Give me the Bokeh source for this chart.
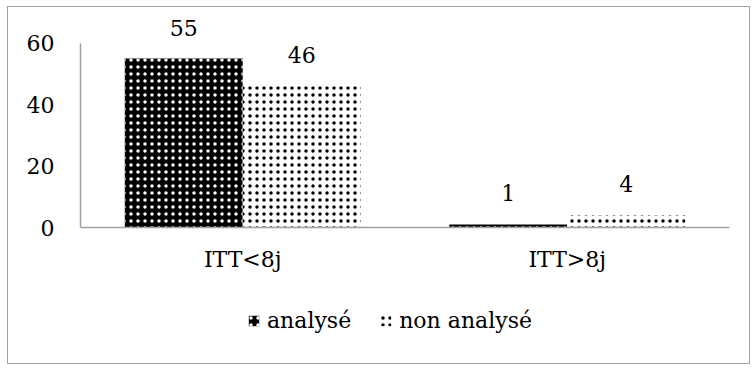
from bokeh.plotting import figure
from bokeh.models import ColumnDataSource, FactorRange, Range1d, FixedTicker, Legend, LegendItem, Span
from bokeh.transform import dodge
from bokeh.core.properties import value
from bokeh.embed import file_html
from bokeh.resources import INLINE

categories = ["ITT<8j", "ITT>8j"]
analyse = [55, 1]
non_analyse = [46, 4]
series_names = ["analysé", "non analysé"]
y_ticks = [0, 20, 40, 60]

FONT = "DejaVu Serif"
FS = "22px"

src = ColumnDataSource(dict(
    cat=categories, a=analyse, n=non_analyse,
    al=[str(v) for v in analyse], nl=[str(v) for v in non_analyse],
))

p = figure(width=743, height=358, output_backend="svg", toolbar_location=None,
           x_range=FactorRange(*categories, range_padding=0),
           y_range=Range1d(-44.9, 70))
p.styles = {"border": "1px solid #a0a0a0", "margin": "6px 0 0 7px"}
p.min_border_left = 72
p.min_border_right = 22
p.min_border_top = 5
p.min_border_bottom = 0
p.outline_line_color = None
p.grid.grid_line_color = None

w = 0.3636
r1 = p.vbar(x=dodge("cat", -w / 2, range=p.x_range), top="a", width=w, source=src,
            fill_color="black", line_color=None,
            hatch_pattern="dot", hatch_color="white", hatch_scale=7, hatch_weight=2)
r2 = p.vbar(x=dodge("cat", w / 2, range=p.x_range), top="n", width=w, source=src,
            fill_color="white", line_color=None,
            hatch_pattern="dot", hatch_color="black", hatch_scale=7, hatch_weight=2)

# value labels
p.text(x=dodge("cat", -w / 2, range=p.x_range), y="a", text="al", source=src,
       text_align="center", text_baseline="alphabetic", y_offset=-31,
       text_font=value(FONT), text_font_size=FS, text_color="black")
p.text(x=dodge("cat", w / 2, range=p.x_range), y="n", text="nl", source=src,
       text_align="center", text_baseline="alphabetic", y_offset=-31,
       text_font=value(FONT), text_font_size=FS, text_color="black")

# category axis (line at 0 and category labels)
p.add_layout(Span(location=0, dimension="width", line_color="#a0a0a0", line_width=1.5))
p.text(x="cat", y=0, text="cat", source=src, text_align="center",
       text_baseline="alphabetic", y_offset=32,
       text_font=value(FONT), text_font_size=FS, text_color="black")
p.xaxis.visible = False

p.yaxis.ticker = FixedTicker(ticks=y_ticks)
p.yaxis.bounds = (0, 60)
ax = p.yaxis[0]
ax.axis_line_color = "#a0a0a0"
ax.axis_line_width = 1.5
ax.major_tick_line_color = None
ax.minor_tick_line_color = None
ax.major_label_text_font = FONT
ax.major_label_text_font_size = FS
ax.major_label_text_color = "black"
ax.major_label_standoff = 20

legend = Legend(items=[LegendItem(label=series_names[0], renderers=[r1]),
                       LegendItem(label=series_names[1], renderers=[r2])],
                orientation="horizontal", location=(167, 32),
                label_text_font=FONT, label_text_font_size=FS,
                label_text_color="black",
                glyph_width=13, glyph_height=13, spacing=28, label_standoff=7,
                padding=0, margin=0,
                border_line_color=None, background_fill_alpha=0)
p.add_layout(legend)

open("out.html", "w").write(file_html(p, INLINE))
